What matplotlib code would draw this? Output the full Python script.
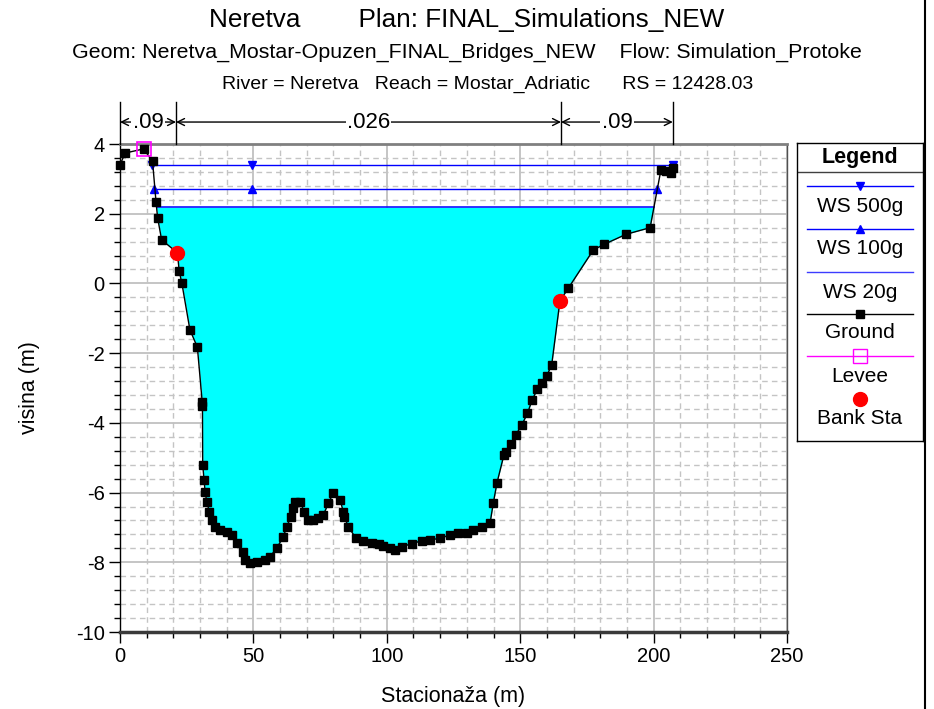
import matplotlib
matplotlib.use("Agg")
import matplotlib.pyplot as plt
from matplotlib.lines import Line2D
import numpy as np

plt.rcParams['font.family'] = ['Liberation Sans', 'DejaVu Sans']
plt.rcParams['axes.unicode_minus'] = False

# ---------------- data ----------------
ground_x = [0, 1.9, 8.9, 12.2, 13.5, 14.1, 15.6, 22.2, 23.2, 26.2, 29.0, 30.8, 30.9, 31.0,
            31.5, 31.9, 32.5, 33.5, 34.4, 35.6, 37.5, 40.0, 41.9, 44.0, 46.2, 46.9, 48.7,
            51.2, 54.3, 56.2, 58.7, 61.2, 62.5, 64.1, 64.7, 65.6, 67.5, 69.0, 70.6, 72.5,
            74.3, 76.2, 78.1, 79.9, 82.5, 83.7, 84.0, 85.6, 88.4, 91.2, 94.6, 97.0, 98.7,
            101.2, 103.1, 105.6, 109.3, 113.1, 116.2, 119.9, 123.7, 126.8, 129.9, 132.4,
            135.6, 138.7, 139.9, 141.3, 143.9, 144.7, 146.6, 148.3, 150.6, 152.7, 154.5,
            156.4, 158.1, 159.9, 161.8, 168.0, 177.4, 181.4, 189.7, 198.7, 202.7, 204.6,
            206.4, 207.2]
ground_y = [3.40, 3.74, 3.86, 3.50, 2.34, 1.88, 1.25, 0.35, 0.00, -1.33, -1.83, -3.39, -3.52,
            -5.20, -5.64, -5.97, -6.26, -6.55, -6.79, -6.98, -7.07, -7.12, -7.22, -7.46, -7.70,
            -7.93, -8.03, -7.98, -7.93, -7.84, -7.60, -7.27, -6.98, -6.69, -6.45, -6.26, -6.26,
            -6.55, -6.79, -6.79, -6.74, -6.64, -6.31, -6.01, -6.21, -6.55, -6.69, -6.98, -7.31,
            -7.39, -7.44, -7.48, -7.53, -7.60, -7.65, -7.55, -7.47, -7.38, -7.36, -7.31, -7.22,
            -7.17, -7.15, -7.07, -6.98, -6.88, -6.31, -5.72, -4.92, -4.83, -4.61, -4.35, -4.06,
            -3.73, -3.34, -3.04, -2.85, -2.66, -2.34, -0.14, 0.96, 1.12, 1.41, 1.60, 3.24, 3.22,
            3.16, 3.32]

bank_x = [21.5, 164.9]
bank_y = [0.88, -0.50]

levee_x = [8.9]
levee_y = [3.86]

ws500_level = 3.40
ws500_x = [12.1, 49.3, 207.2]
ws100_level = 2.71
ws100_x = [12.8, 49.3, 201.3]
ws20_level = 2.19
ws20_x = [14.0, 200.1]

n_breaks = [0, 21.0, 165.3, 207.2]
n_values = [".09", ".026", ".09"]

title1 = "Neretva        Plan: FINAL_Simulations_NEW"
title2 = "Geom: Neretva_Mostar-Opuzen_FINAL_Bridges_NEW    Flow: Simulation_Protoke"
title3 = "River = Neretva   Reach = Mostar_Adriatic      RS = 12428.03"

# ---------------- figure ----------------
W, H = 934, 709
fig = plt.figure(figsize=(W / 100, H / 100), dpi=100)
ax = fig.add_axes([120 / W, 1 - 632 / H, (787 - 120) / W, (632 - 144) / H])
ax.set_xlim(0, 250)
ax.set_ylim(-10, 4)

# grid
ax.set_xticks(np.arange(0, 251, 50))
ax.set_xticks(np.arange(0, 251, 10), minor=True)
ax.set_yticks(np.arange(-10, 4.01, 2))
ax.set_yticks(np.arange(-10, 4.01, 0.4), minor=True)
ax.grid(which='minor', color='#c4c4c4', linestyle=(0, (4, 3)), linewidth=1.0)
ax.grid(which='major', color='#c0c0c0', linestyle='-', linewidth=1.3)
ax.set_axisbelow(True)
ax.tick_params(which='major', direction='out', length=8, width=1, labelsize=14.5, pad=3)
ax.tick_params(which='minor', direction='out', length=4, width=1)

ax.spines['left'].set_color('black')
ax.spines['left'].set_linewidth(1)
ax.spines['bottom'].set_color('#3a3a3a')
ax.spines['bottom'].set_linewidth(2.5)
ax.spines['top'].set_color('#808080')
ax.spines['top'].set_linewidth(2)
ax.spines['right'].set_color('#505050')
ax.spines['right'].set_linewidth(1)

gx = np.array(ground_x)
gy = np.array(ground_y)
# line passes through bank stations as well
lx = np.concatenate([gx, bank_x])
ly = np.concatenate([gy, bank_y])
order = np.argsort(lx, kind='stable')
lx, ly = lx[order], ly[order]

# water fill (WS 20g)
ax.fill_between(lx, ly, ws20_level, where=(ly <= ws20_level) & (lx > 13) & (lx < 201),
                interpolate=True, color='#00ffff', linewidth=0, zorder=2)

# water surface lines
ax.plot(ws20_x, [ws20_level] * len(ws20_x), color='#1010ff', lw=1.2, zorder=3)
ax.plot(ws100_x, [ws100_level] * len(ws100_x), color='#0000ff', lw=1.0,
        marker='^', ms=6, zorder=3)
ax.plot(ws500_x, [ws500_level] * len(ws500_x), color='#0000ff', lw=1.0,
        marker='v', ms=6, zorder=3)

# ground
ax.plot(lx, ly, color='black', lw=1.0, zorder=4)
ax.plot(gx, gy, linestyle='none', marker='s', ms=6.2, color='black', zorder=5,
        clip_on=False)

# bank stations
ax.plot(bank_x, bank_y, linestyle='none', marker='o', ms=10, color='#ff0000',
        markeredgecolor='#ff0000', zorder=6)
# levee
ax.plot(levee_x, levee_y, linestyle='none', marker='s', ms=9.5, markerfacecolor='none',
        markeredgecolor='#ff00ff', markeredgewidth=1.2, zorder=6, clip_on=False)

# Manning n annotation
y_arrow = 4.63
for xb in n_breaks:
    ax.plot([xb, xb], [4, 5.2], color='black', lw=1, clip_on=False, zorder=7)
for i, lab in enumerate(n_values):
    x0, x1 = n_breaks[i], n_breaks[i + 1]
    ax.annotate('', xy=(x0, y_arrow), xytext=(x1, y_arrow),
                arrowprops=dict(arrowstyle='<->,head_length=0.5,head_width=0.25',
                                color='black', lw=1, shrinkA=0, shrinkB=0),
                annotation_clip=False)
    ax.text((x0 + x1) / 2, y_arrow, lab, ha='center', va='center', fontsize=16,
            bbox=dict(facecolor='white', edgecolor='none', pad=1.0), zorder=8,
            clip_on=False)

ax.set_xlabel("Stacionaža (m)", fontsize=15.5, labelpad=14)
ax.set_ylabel("visina (m)", fontsize=15.5, labelpad=26)

fig.text(0.5, 1 - 20 / H, title1, ha='center', va='center', fontsize=18.8)
fig.text(0.5, 1 - 52 / H, title2, ha='center', va='center', fontsize=15.4)
fig.text(488 / W, 1 - 84 / H, title3, ha='center', va='center', fontsize=14.0)

# right border line of figure
fig.add_artist(Line2D([925 / W, 925 / W], [0, 1], color='black', lw=1.5))

# ---------------- legend ----------------
lax = fig.add_axes([797 / W, 1 - 441 / H, (923 - 797) / W, (441 - 143) / H])
lax.set_xlim(797, 923)
lax.set_ylim(441, 143)
lax.set_xticks([])
lax.set_yticks([])
for s in lax.spines.values():
    s.set_color('black')
    s.set_linewidth(1)
lax.text(860, 157, "Legend", ha='center', va='center', fontsize=15.5, fontweight='bold')
lax.plot([797, 923], [172, 172], color='#404040', lw=1)

entries = [
    ("WS 500g", dict(color='#0000ff', marker='v', ms=6), 186, 206),
    ("WS 100g", dict(color='#0000ff', marker='^', ms=6), 229, 249),
    ("WS 20g", dict(color='#3c3cff', marker=None), 272, 292),
    ("Ground", dict(color='black', marker='s', ms=6), 314, 333),
    ("Levee", dict(color='#ff00ff', marker='s', ms=10, markerfacecolor='none',
                   markeredgecolor='#ff00ff'), 356, 376),
]
for lab, st, yl, yt in entries:
    st = dict(st)
    mk = st.pop('marker')
    lax.plot([807, 913], [yl, yl], lw=1, color=st.pop('color'))
    if mk is not None:
        mc = st.pop('markeredgecolor', None)
        lax.plot([860], [yl], marker=mk, linestyle='none',
                 color=(mc if mc else lax.lines[-1].get_color()),
                 **st)
    lax.text(860, yt, lab, ha='center', va='center', fontsize=15)
lax.plot([860], [399], marker='o', ms=10, color='#ff0000', linestyle='none')
lax.text(860, 418, "Bank Sta", ha='center', va='center', fontsize=15)

fig.savefig("out.png", dpi=100)
